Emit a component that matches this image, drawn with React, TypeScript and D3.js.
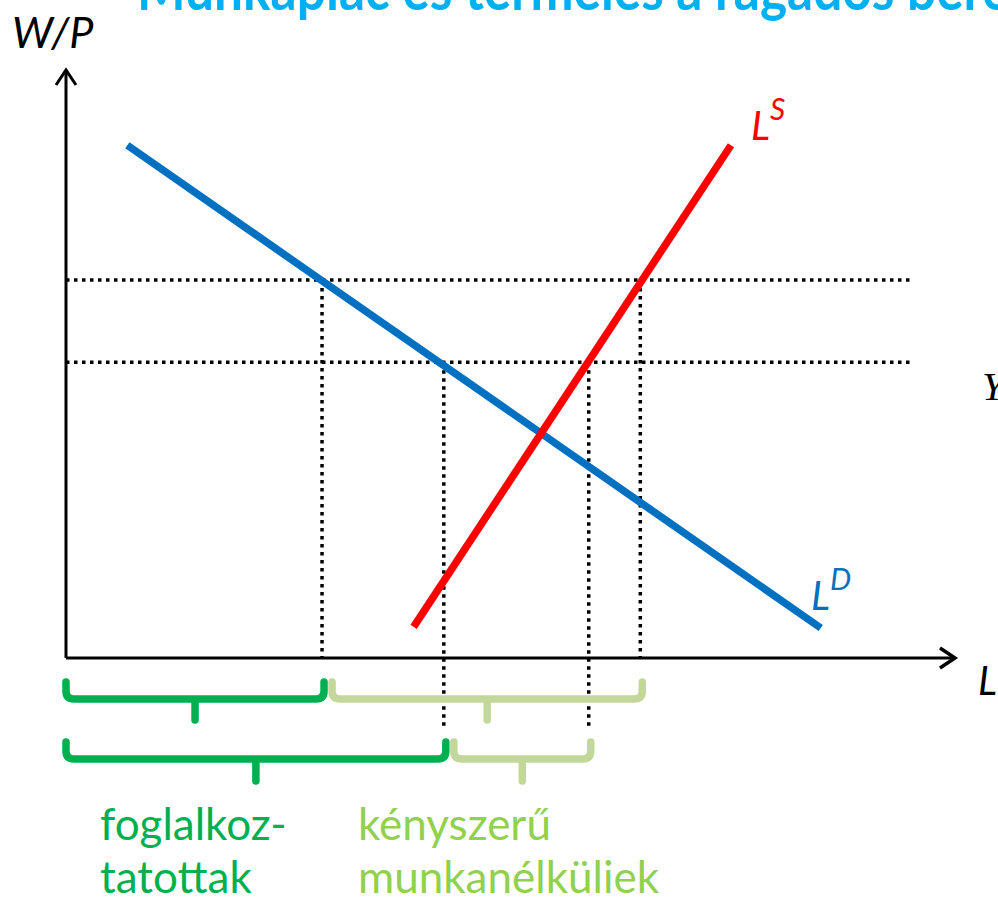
import React from 'react';
import * as d3 from 'd3';

// values are in chart units: L on 0..100, W/P on 0..100
const laborDemand = [{l: 6.9, w: 87.2}, {l: 84.9, w: 5.1}];
const laborSupply = [{l: 39.1, w: 5.3}, {l: 74.8, w: 87.2}];
const realWages = [64.3, 50.3];
const guideL = [28.8, 42.5, 58.8, 64.6];
const guideW = [64.3, 50.3, 50.3, 64.3];
const guideLong = [false, true, true, false];
const braceRow1 = [{from: 0, to: 28.8, kind: 'emp'}, {from: 28.8, to: 64.6, kind: 'unemp'}];
const braceRow2 = [{from: 0, to: 42.5, kind: 'emp'}, {from: 42.5, to: 58.8, kind: 'unemp'}];
const employedLabel = ['foglalkoz-', 'tatottak'];
const unemployedLabel = ['kényszerű', 'munkanélküliek'];
const titleText = 'Munkapiac és termelés a ragadós bérek';

const W = 998;
const H = 902;
const BLUE = '#0070C0';
const RED = '#FF0000';
const DARK_GREEN = '#00B050';
const LIGHT_GREEN = '#92D050';
const PALE_GREEN = '#C4D79B';
const FONT = 'Lato, "Open Sans", sans-serif';

export default function App() {
  const x = d3.scaleLinear().domain([0, 100]).range([66, 955]);
  const y = d3.scaleLinear().domain([0, 100]).range([658, 70]);
  const line = d3.line<{l: number; w: number}>().x(d => x(d.l)).y(d => y(d.w));

  const rows = [
    {data: braceRow1, top: 682, mid: 699, bottom: 720},
    {data: braceRow2, top: 742, mid: 759, bottom: 781},
  ];

  const bracePath = (x0: number, x1: number, top: number, mid: number, bottom: number) => {
    const r = 8;
    const cx = (x0 + x1) / 2;
    return `M${x0},${top} L${x0},${mid - r} Q${x0},${mid} ${x0 + r},${mid} L${x1 - r},${mid} Q${x1},${mid} ${x1},${mid - r} L${x1},${top}` +
      ` M${cx},${mid} L${cx},${bottom}`;
  };

  const x0 = x(0), y0 = y(0);
  const xEnd = x.range()[1], yEnd = y.range()[1];
  const dots = {stroke: '#000', strokeWidth: 3.5, strokeDasharray: '3.5,4.5'};

  return (
    <svg width={W} height={H} style={{display: 'block', position: 'absolute', left: 0, top: 0, background: '#fff'}}>
      {/* cut-off slide title */}
      <text x={137} y={10} fontFamily={FONT} fontWeight="bold" fontSize={60} fill="#00B0F0"
        textLength={900} lengthAdjust="spacingAndGlyphs">{titleText}</text>

      {/* dotted guides */}
      {realWages.map((w, i) => (
        <line key={'h' + i} x1={x0} x2={912} y1={y(w)} y2={y(w)} {...dots} />
      ))}
      {guideL.map((l, i) => (
        <line key={'v' + i} x1={x(l)} x2={x(l)} y1={y(guideW[i])} y2={guideLong[i] ? 727 : y0} {...dots} />
      ))}

      {/* axes */}
      <line x1={x0} y1={y0} x2={x0} y2={yEnd} stroke="#000" strokeWidth={3} />
      <line x1={x0} y1={y0} x2={xEnd} y2={y0} stroke="#000" strokeWidth={3} />
      <path d={`M${x0 - 10},${yEnd + 15} L${x0},${yEnd} L${x0 + 10},${yEnd + 15}`} fill="none" stroke="#000" strokeWidth={3} />
      <path d={`M${xEnd - 15},${y0 - 10} L${xEnd},${y0} L${xEnd - 15},${y0 + 10}`} fill="none" stroke="#000" strokeWidth={3.5} />

      {/* curves */}
      <path d={line(laborDemand) || ''} stroke={BLUE} strokeWidth={7.5} fill="none" />
      <path d={line(laborSupply) || ''} stroke={RED} strokeWidth={7.5} fill="none" />

      {/* braces */}
      {rows.map((row, ri) => row.data.map((b, bi) => {
        const bx0 = x(b.from) + (b.from > 0 ? 10 : 0);
        const bx1 = x(b.to) + 2;
        return (
          <path key={`b${ri}-${bi}`} d={bracePath(bx0, bx1, row.top, row.mid, row.bottom)}
            fill="none" stroke={b.kind === 'emp' ? DARK_GREEN : PALE_GREEN} strokeWidth={7.5}
            strokeLinecap="round" strokeLinejoin="round" />
        );
      }))}

      {/* axis labels */}
      <text x={12} y={48} fontFamily={FONT} fontStyle="italic" fontSize={43} fill="#000">W/P</text>
      <text x={978} y={695} fontFamily={FONT} fontStyle="italic" fontSize={40} fill="#000">L</text>
      <text x={982} y={400} fontFamily='"Liberation Serif", serif' fontStyle="italic" fontSize={40} fill="#000">Y</text>

      {/* curve labels */}
      <text x={751} y={140} fontFamily={FONT} fontStyle="italic" fontSize={40} fill={RED}>
        L<tspan fontSize={30} dy={-20}>S</tspan>
      </text>
      <text x={811} y={610} fontFamily={FONT} fontStyle="italic" fontSize={40} fill={BLUE}>
        L<tspan fontSize={30} dy={-20}>D</tspan>
      </text>

      {/* group labels */}
      {employedLabel.map((t, i) => (
        <text key={'e' + i} x={100} y={840 + i * 53} fontFamily={FONT} fontSize={44} fill={DARK_GREEN}>{t}</text>
      ))}
      {unemployedLabel.map((t, i) => (
        <text key={'u' + i} x={358} y={840 + i * 53} fontFamily={FONT} fontSize={44} fill={LIGHT_GREEN}>{t}</text>
      ))}
    </svg>
  );
}
